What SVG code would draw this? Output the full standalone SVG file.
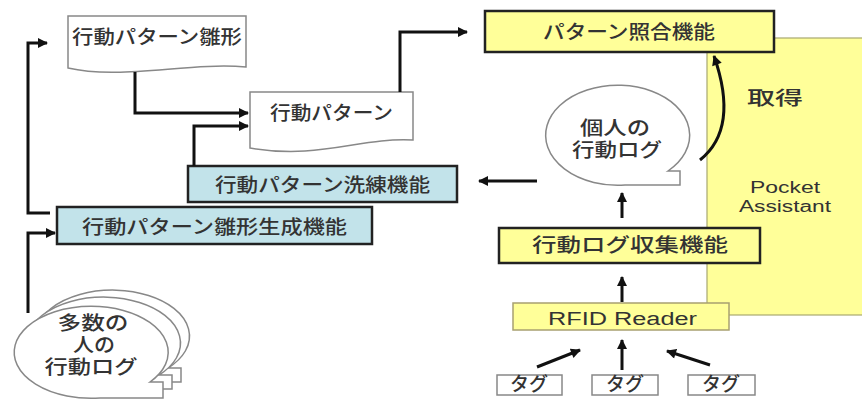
<svg xmlns="http://www.w3.org/2000/svg" width="862" height="402" viewBox="0 0 862 402">
<defs>
<style>
.jp{font-family:"Noto Sans CJK JP","Noto Sans",sans-serif;fill:#333;font-size:19px;font-weight:500}
.en{font-family:"Liberation Sans",Arial,sans-serif;fill:#333}
.doc{fill:#fff;stroke:#888;stroke-width:1.5}
.blue{fill:#c2e3ea;stroke:#222;stroke-width:2.5}
.yel{fill:#ffff99;stroke:#222;stroke-width:2.5}
.bub{fill:#fff;stroke:#888;stroke-width:1.5}
.tag{fill:#fff;stroke:#888;stroke-width:1.5}
.con{fill:none;stroke:#111;stroke-width:3;marker-end:url(#ah)}
</style>
<marker id="ah" viewBox="0 0 10 10" refX="9" refY="5" markerWidth="11" markerHeight="10" markerUnits="userSpaceOnUse" orient="auto">
<path d="M0,0 L10,5 L0,10 z" fill="#111"/>
</marker>
</defs>
<rect width="862" height="402" fill="#fff"/>

<g id="pocket-assistant">
<rect x="707" y="38" width="170" height="277" fill="#ffff99" stroke="#a8a870" stroke-width="1.2"/>
<text class="en" font-size="16" text-anchor="middle" fill="#444"><tspan x="785" y="193" textLength="70" lengthAdjust="spacingAndGlyphs">Pocket</tspan><tspan x="785" y="212" textLength="92" lengthAdjust="spacingAndGlyphs">Assistant</tspan></text>
<text class="jp" x="775" y="105" font-size="24" font-weight="bold" text-anchor="middle" textLength="56" lengthAdjust="spacingAndGlyphs">取得</text>
</g>

<g id="template-doc">
<path class="doc" d="M68,16 H246 V67 C190,62 120,80 68,68 Z"/>
<text class="jp" x="72" y="44" textLength="170" lengthAdjust="spacingAndGlyphs">行動パターン雛形</text>
</g>

<g id="pattern-doc">
<path class="doc" d="M250,92 H413 V140 C360,137 320,160 250,148 Z"/>
<text class="jp" x="270" y="120" textLength="123" lengthAdjust="spacingAndGlyphs">行動パターン</text>
</g>

<g id="refine-func">
<rect class="blue" x="188" y="166" width="269" height="36"/>
<text class="jp" x="215" y="192" textLength="215" lengthAdjust="spacingAndGlyphs">行動パターン洗練機能</text>
</g>

<g id="template-gen-func">
<rect class="blue" x="57" y="207" width="315" height="37"/>
<text class="jp" x="82" y="234" textLength="265" lengthAdjust="spacingAndGlyphs">行動パターン雛形生成機能</text>
</g>

<g id="match-func">
<rect class="yel" x="485" y="11" width="289" height="41"/>
<text class="jp" x="543" y="39" textLength="172" lengthAdjust="spacingAndGlyphs">パターン照合機能</text>
</g>

<g id="personal-log">
<path class="bub" d="M668,171 H680 V185 H625 A72,50 0 1 1 668,171 Z"/>
<text class="jp" font-size="18" text-anchor="middle"><tspan x="615" y="135" textLength="70" lengthAdjust="spacingAndGlyphs">個人の</tspan><tspan x="617" y="157" textLength="90" lengthAdjust="spacingAndGlyphs">行動ログ</tspan></text>
</g>

<g id="collect-func">
<rect class="yel" x="499" y="228" width="261" height="35"/>
<text class="jp" x="532" y="252" font-size="21" textLength="196" lengthAdjust="spacingAndGlyphs">行動ログ収集機能</text>
</g>

<g id="rfid-reader">
<rect x="513" y="303" width="216" height="27" fill="#ffff99" stroke="#a8a070" stroke-width="1.5"/>
<text class="en" x="548" y="325" font-size="18" textLength="149" lengthAdjust="spacingAndGlyphs">RFID Reader</text>
</g>

<g id="tag1">
<rect class="tag" x="497" y="375" width="65" height="20"/>
<text class="jp" x="510" y="391" font-size="16" fill="#555" textLength="38" lengthAdjust="spacingAndGlyphs">タグ</text>
</g>
<g id="tag2">
<rect class="tag" x="592" y="375" width="66" height="20"/>
<text class="jp" x="606" y="391" font-size="16" fill="#555" textLength="38" lengthAdjust="spacingAndGlyphs">タグ</text>
</g>
<g id="tag3">
<rect class="tag" x="688" y="375" width="67" height="20"/>
<text class="jp" x="702" y="391" font-size="16" fill="#555" textLength="38" lengthAdjust="spacingAndGlyphs">タグ</text>
</g>

<g id="many-logs">
<path class="bub" transform="translate(18,-14)" d="M150,382 H163 V396 H100 A77,46 0 1 1 150,382 Z"/>
<path class="bub" transform="translate(9,-7)" d="M150,382 H163 V396 H100 A77,46 0 1 1 150,382 Z"/>
<path class="bub" d="M150,382 H163 V398 H100 A77,46 0 1 1 150,382 Z"/>
<text class="jp" font-size="18" text-anchor="middle"><tspan x="93" y="330" textLength="71" lengthAdjust="spacingAndGlyphs">多数の</tspan><tspan x="94" y="352" textLength="42" lengthAdjust="spacingAndGlyphs">人の</tspan><tspan x="91" y="374" textLength="93" lengthAdjust="spacingAndGlyphs">行動ログ</tspan></text>
</g>

<g id="connectors">
<path class="con" d="M50,213 H28 V43 H47"/>
<path class="con" d="M28,313 V233 H55"/>
<path class="con" d="M135,72 V113 H248"/>
<path class="con" d="M194,166 V126 H248"/>
<path class="con" d="M400,92 V32 H467"/>
<path class="con" d="M537,181 H479"/>
<path class="con" d="M622,218 V193"/>
<path class="con" d="M622,302 V277"/>
<path class="con" d="M537,367 L580,350"/>
<path class="con" d="M622,370 V340"/>
<path class="con" d="M710,365 L667,351"/>
<path class="con" d="M700,160 C730,136 728,96 714,56" stroke-width="2.5"/>
</g>
</svg>
